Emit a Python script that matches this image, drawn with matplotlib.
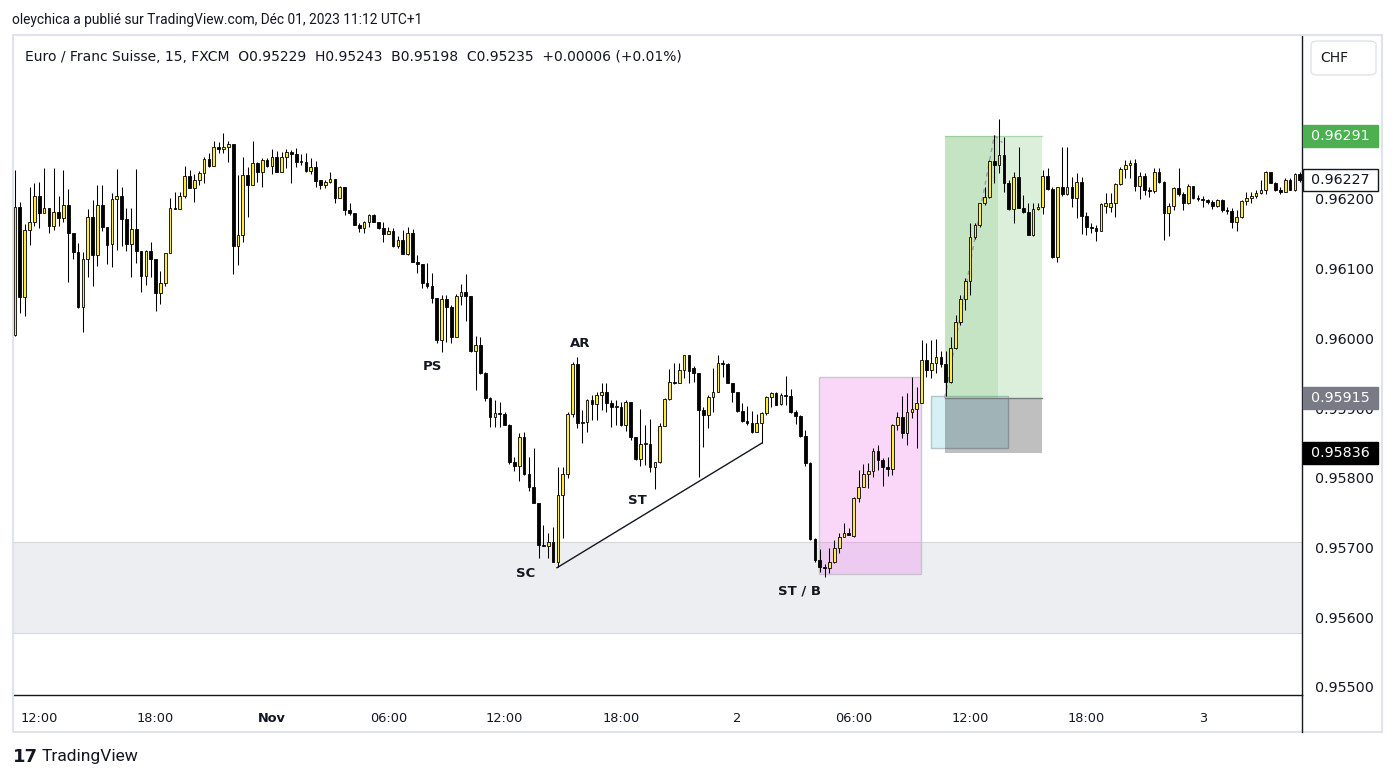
import matplotlib
matplotlib.use("Agg")
import matplotlib.pyplot as plt
import matplotlib.transforms as mtransforms
from matplotlib.patches import Rectangle, FancyBboxPatch
from matplotlib.lines import Line2D
import numpy as np

plt.rcParams['font.family'] = ['DejaVu Sans']

# ---------------- data (EUR/CHF, 15 min, FXCM) ----------------
opens = [0.96005,0.96189,0.96059,0.96156,0.96167,0.96204,0.96180,0.96187,0.96161,0.96181,
0.96173,0.96191,0.96151,0.96124,0.96045,0.96114,0.96174,0.96120,0.96191,0.96160,
0.96135,0.96200,0.96204,0.96171,0.96135,0.96157,0.96125,0.96090,0.96125,0.96114,
0.96065,0.96080,0.96123,0.96187,0.96186,0.96204,0.96233,0.96216,0.96227,0.96237,
0.96257,0.96247,0.96275,0.96272,0.96275,0.96279,0.96133,0.96148,0.96234,0.96220,
0.96252,0.96239,0.96256,0.96247,0.96260,0.96239,0.96260,0.96267,0.96265,0.96253,
0.96253,0.96240,0.96246,0.96227,0.96220,0.96224,0.96229,0.96201,0.96217,0.96184,
0.96180,0.96163,0.96158,0.96167,0.96177,0.96167,0.96158,0.96150,0.96154,0.96133,
0.96141,0.96121,0.96151,0.96110,0.96107,0.96080,0.96075,0.96058,0.95998,0.96057,
0.96045,0.96002,0.96061,0.96067,0.96061,0.95982,0.95991,0.95950,0.95915,0.95887,
0.95893,0.95892,0.95876,0.95823,0.95817,0.95859,0.95805,0.95787,0.95764,0.95704,
0.95702,0.95708,0.95679,0.95775,0.95805,0.95892,0.95963,0.95879,0.95880,0.95912,
0.95906,0.95919,0.95923,0.95907,0.95902,0.95902,0.95876,0.95909,0.95859,0.95827,
0.95849,0.95849,0.95815,0.95823,0.95874,0.95913,0.95937,0.95936,0.95955,0.95976,
0.95957,0.95950,0.95897,0.95890,0.95916,0.95923,0.95965,0.95963,0.95936,0.95923,
0.95896,0.95881,0.95879,0.95866,0.95879,0.95893,0.95916,0.95922,0.95906,0.95919,
0.95917,0.95894,0.95889,0.95860,0.95821,0.95712,0.95682,0.95672,0.95671,0.95679,
0.95699,0.95715,0.95721,0.95717,0.95771,0.95787,0.95805,0.95810,0.95838,0.95826,
0.95815,0.95813,0.95876,0.95887,0.95864,0.95894,0.95899,0.95907,0.95969,0.95955,
0.95965,0.95973,0.95963,0.95937,0.95986,0.96024,0.96057,0.96082,0.96146,0.96163,
0.96194,0.96203,0.96255,0.96249,0.96263,0.96223,0.96186,0.96232,0.96187,0.96181,
0.96148,0.96186,0.96189,0.96233,0.96214,0.96117,0.96217,0.96207,0.96217,0.96201,
0.96224,0.96176,0.96160,0.96158,0.96154,0.96190,0.96189,0.96194,0.96222,0.96243,
0.96249,0.96252,0.96219,0.96233,0.96213,0.96211,0.96239,0.96224,0.96180,0.96190,
0.96216,0.96207,0.96194,0.96219,0.96201,0.96200,0.96199,0.96196,0.96190,0.96199,
0.96184,0.96183,0.96167,0.96174,0.96197,0.96201,0.96204,0.96209,0.96213,0.96239,
0.96223,0.96213,0.96210,0.96227,0.96213,0.96236]

highs = [0.96242,0.96196,0.96164,0.96217,0.96223,0.96224,0.96244,0.96187,0.96244,0.96204,
0.96242,0.96214,0.96151,0.96137,0.96124,0.96186,0.96199,0.96220,0.96220,0.96160,
0.96209,0.96243,0.96217,0.96187,0.96187,0.96243,0.96125,0.96127,0.96138,0.96114,
0.96097,0.96123,0.96201,0.96210,0.96210,0.96247,0.96242,0.96236,0.96240,0.96260,
0.96266,0.96283,0.96282,0.96295,0.96283,0.96279,0.96234,0.96260,0.96246,0.96283,
0.96253,0.96259,0.96259,0.96272,0.96269,0.96267,0.96272,0.96270,0.96273,0.96265,
0.96266,0.96259,0.96255,0.96227,0.96227,0.96239,0.96229,0.96219,0.96217,0.96194,
0.96180,0.96166,0.96168,0.96178,0.96178,0.96167,0.96167,0.96160,0.96158,0.96147,
0.96156,0.96160,0.96157,0.96120,0.96107,0.96108,0.96094,0.96058,0.96062,0.96062,
0.96048,0.96064,0.96078,0.96092,0.96061,0.96003,0.96002,0.95952,0.95916,0.95912,
0.95909,0.95894,0.95877,0.95830,0.95864,0.95866,0.95830,0.95843,0.95764,0.95732,
0.95721,0.95729,0.95815,0.95815,0.95894,0.95966,0.95973,0.95897,0.95913,0.95919,
0.95923,0.95936,0.95936,0.95912,0.95912,0.95909,0.95912,0.95909,0.95859,0.95899,
0.95876,0.95884,0.95823,0.95879,0.95915,0.95956,0.95965,0.95965,0.95976,0.95976,
0.95960,0.95950,0.95902,0.95919,0.95958,0.95976,0.95969,0.95965,0.95936,0.95923,
0.95907,0.95903,0.95896,0.95892,0.95894,0.95917,0.95923,0.95923,0.95922,0.95946,
0.95927,0.95897,0.95890,0.95869,0.95823,0.95714,0.95698,0.95676,0.95699,0.95711,
0.95721,0.95735,0.95728,0.95772,0.95811,0.95820,0.95821,0.95843,0.95847,0.95828,
0.95830,0.95877,0.95894,0.95917,0.95922,0.95945,0.95930,0.95998,0.95993,0.95998,
0.95999,0.95982,0.95982,0.96002,0.96034,0.96062,0.96087,0.96166,0.96166,0.96194,
0.96217,0.96256,0.96292,0.96315,0.96289,0.96227,0.96239,0.96275,0.96206,0.96194,
0.96194,0.96194,0.96242,0.96244,0.96217,0.96217,0.96275,0.96275,0.96232,0.96237,
0.96232,0.96181,0.96166,0.96163,0.96194,0.96209,0.96209,0.96223,0.96246,0.96256,
0.96256,0.96257,0.96239,0.96237,0.96217,0.96244,0.96244,0.96226,0.96194,0.96217,
0.96244,0.96210,0.96222,0.96219,0.96206,0.96204,0.96200,0.96199,0.96200,0.96200,
0.96189,0.96187,0.96184,0.96199,0.96210,0.96210,0.96213,0.96227,0.96240,0.96239,
0.96224,0.96217,0.96230,0.96230,0.96237,0.96239]

lows = [0.96003,0.96036,0.96032,0.96134,0.96161,0.96158,0.96180,0.96151,0.96156,0.96161,
0.96167,0.96081,0.96114,0.96044,0.96009,0.96088,0.96075,0.96104,0.96154,0.96107,
0.96102,0.96127,0.96133,0.96125,0.96088,0.96108,0.96067,0.96077,0.96088,0.96039,
0.96049,0.96075,0.96123,0.96186,0.96186,0.96201,0.96216,0.96196,0.96220,0.96223,
0.96246,0.96247,0.96266,0.96266,0.96253,0.96092,0.96105,0.96138,0.96174,0.96220,
0.96224,0.96217,0.96246,0.96236,0.96239,0.96239,0.96244,0.96223,0.96246,0.96249,
0.96239,0.96236,0.96217,0.96214,0.96216,0.96223,0.96194,0.96201,0.96177,0.96177,
0.96163,0.96153,0.96151,0.96160,0.96167,0.96157,0.96138,0.96150,0.96131,0.96130,
0.96121,0.96120,0.96110,0.96094,0.96072,0.96072,0.96051,0.95993,0.95980,0.95995,
0.95993,0.96002,0.96048,0.96025,0.95980,0.95926,0.95949,0.95910,0.95873,0.95873,
0.95873,0.95876,0.95820,0.95810,0.95795,0.95804,0.95781,0.95764,0.95685,0.95702,
0.95685,0.95679,0.95672,0.95714,0.95800,0.95887,0.95872,0.95850,0.95866,0.95883,
0.95883,0.95897,0.95894,0.95873,0.95876,0.95874,0.95867,0.95854,0.95826,0.95817,
0.95818,0.95808,0.95784,0.95821,0.95874,0.95912,0.95935,0.95936,0.95943,0.95936,
0.95937,0.95801,0.95844,0.95872,0.95894,0.95923,0.95945,0.95936,0.95909,0.95894,
0.95880,0.95876,0.95864,0.95866,0.95850,0.95890,0.95902,0.95904,0.95904,0.95904,
0.95893,0.95877,0.95859,0.95817,0.95711,0.95679,0.95665,0.95658,0.95663,0.95678,
0.95692,0.95715,0.95718,0.95715,0.95765,0.95787,0.95785,0.95801,0.95811,0.95788,
0.95803,0.95804,0.95869,0.95857,0.95847,0.95886,0.95843,0.95907,0.95945,0.95943,
0.95950,0.95959,0.95917,0.95936,0.95985,0.96019,0.96041,0.96062,0.96143,0.96160,
0.96191,0.96201,0.96223,0.96237,0.96210,0.96184,0.96166,0.96187,0.96180,0.96148,
0.96147,0.96184,0.96178,0.96213,0.96115,0.96110,0.96204,0.96206,0.96189,0.96173,
0.96150,0.96148,0.96151,0.96140,0.96154,0.96180,0.96181,0.96174,0.96220,0.96230,
0.96230,0.96211,0.96200,0.96206,0.96203,0.96209,0.96223,0.96141,0.96147,0.96184,
0.96204,0.96184,0.96193,0.96200,0.96197,0.96189,0.96193,0.96186,0.96189,0.96181,
0.96178,0.96158,0.96154,0.96173,0.96191,0.96194,0.96201,0.96207,0.96207,0.96223,
0.96211,0.96207,0.96210,0.96213,0.96211,0.96224]

closes = [0.96189,0.96059,0.96156,0.96167,0.96204,0.96180,0.96187,0.96161,0.96181,0.96173,
0.96191,0.96151,0.96124,0.96045,0.96114,0.96174,0.96120,0.96191,0.96160,0.96134,
0.96200,0.96204,0.96171,0.96135,0.96157,0.96125,0.96090,0.96125,0.96114,0.96065,
0.96080,0.96123,0.96187,0.96186,0.96204,0.96233,0.96216,0.96227,0.96237,0.96257,
0.96247,0.96275,0.96272,0.96275,0.96279,0.96133,0.96148,0.96234,0.96220,0.96252,
0.96239,0.96256,0.96247,0.96260,0.96239,0.96260,0.96267,0.96265,0.96253,0.96253,
0.96240,0.96246,0.96226,0.96220,0.96224,0.96229,0.96201,0.96217,0.96184,0.96180,
0.96163,0.96158,0.96167,0.96177,0.96167,0.96158,0.96150,0.96154,0.96133,0.96141,
0.96121,0.96151,0.96110,0.96107,0.96080,0.96075,0.96058,0.95998,0.96057,0.96045,
0.96002,0.96061,0.96067,0.96061,0.95982,0.95991,0.95950,0.95915,0.95887,0.95893,
0.95892,0.95876,0.95823,0.95817,0.95859,0.95805,0.95787,0.95764,0.95704,0.95702,
0.95708,0.95679,0.95775,0.95805,0.95892,0.95963,0.95879,0.95880,0.95912,0.95906,
0.95919,0.95923,0.95907,0.95902,0.95902,0.95876,0.95909,0.95859,0.95827,0.95849,
0.95849,0.95815,0.95823,0.95874,0.95913,0.95937,0.95936,0.95955,0.95976,0.95953,
0.95950,0.95897,0.95890,0.95916,0.95923,0.95965,0.95963,0.95936,0.95923,0.95896,
0.95881,0.95879,0.95866,0.95879,0.95893,0.95916,0.95922,0.95904,0.95919,0.95917,
0.95894,0.95889,0.95860,0.95821,0.95712,0.95682,0.95672,0.95671,0.95679,0.95699,
0.95715,0.95721,0.95718,0.95771,0.95787,0.95805,0.95810,0.95838,0.95826,0.95815,
0.95813,0.95876,0.95887,0.95864,0.95894,0.95899,0.95907,0.95969,0.95955,0.95965,
0.95973,0.95963,0.95937,0.95986,0.96024,0.96057,0.96082,0.96146,0.96163,0.96194,
0.96203,0.96255,0.96249,0.96263,0.96223,0.96186,0.96232,0.96187,0.96181,0.96148,
0.96186,0.96189,0.96233,0.96214,0.96117,0.96217,0.96207,0.96217,0.96201,0.96224,
0.96176,0.96160,0.96158,0.96154,0.96193,0.96194,0.96194,0.96222,0.96243,0.96249,
0.96252,0.96219,0.96233,0.96213,0.96211,0.96239,0.96224,0.96180,0.96190,0.96216,
0.96207,0.96194,0.96219,0.96201,0.96200,0.96199,0.96196,0.96190,0.96199,0.96184,
0.96183,0.96167,0.96174,0.96197,0.96201,0.96204,0.96209,0.96213,0.96239,0.96223,
0.96213,0.96210,0.96227,0.96213,0.96236,0.96227]

# time axis: candle index of each label (first candle = Oct 31 10:45)
time_tick_idx = [5, 29, 53, 77, 101, 125, 149, 173, 197, 221, 245]
time_tick_labels = ["12:00", "18:00", "Nov", "06:00", "12:00", "18:00", "2",
                    "06:00", "12:00", "18:00", "3"]
price_ticks = [0.955, 0.956, 0.957, 0.958, 0.959, 0.960, 0.961, 0.962]

# drawings
support_zone = (0.95577, 0.95708)
pink_box = (165.8, 186.9, 0.95662, 0.95945)
cyan_box = (188.9, 204.8, 0.95843, 0.95917)
pos_x0, pos_x_hit, pos_x1 = 191.8, 202.8, 211.8
entry, target, stop = 0.95915, 0.96291, 0.95836
last_price = 0.96227
st_line = ([111.8, 154.1], [0.95671, 0.95850])
wyckoff_labels = [("PS", 86.2, 0.95960), ("AR", 116.5, 0.95993), ("SC", 105.4, 0.95663),
                  ("ST", 128.3, 0.95767), ("ST / B", 161.9, 0.95638)]

# ---------------- figure ----------------
W, H = 1395, 780
fig = plt.figure(figsize=(W / 100, H / 100), dpi=100)
fig.patch.set_facecolor("white")
TXT = "#131722"

def fx(px):
    return px / W

def fy(py):
    return 1 - py / H

L, R, T, B = 13, 1302, 35, 695
ax = fig.add_axes([fx(L), fy(B), fx(R) - fx(L), fy(T) - fy(B)])
ax.set_facecolor("white")

o = np.array(opens); h = np.array(highs); lo = np.array(lows); c = np.array(closes)
x = np.arange(len(o))

# zones
ax.axhspan(*support_zone, facecolor="#edeef1", edgecolor="none", zorder=0)
for yv in support_zone:
    ax.axhline(yv, color="#d6d8de", lw=0.8, zorder=0.5)

px0, px1, py0, py1 = pink_box
ax.add_patch(Rectangle((px0, py0), px1 - px0, py1 - py0, facecolor=(0.93, 0.38, 0.92, 0.25),
                       edgecolor=(0.75, 0.75, 0.78, 0.8), lw=1, zorder=1))
cx0, cx1, cy0, cy1 = cyan_box
ax.add_patch(Rectangle((cx0, cy0), cx1 - cx0, cy1 - cy0, facecolor="#d6f1f5",
                       edgecolor="#b4c6ca", lw=1, zorder=1))
# long position tool
ax.add_patch(Rectangle((pos_x0, entry), pos_x1 - pos_x0, target - entry,
                       facecolor=(0.30, 0.69, 0.31, 0.2), edgecolor="none", zorder=1.2))
ax.add_patch(Rectangle((pos_x0, entry), pos_x_hit - pos_x0, target - entry,
                       facecolor=(0.30, 0.69, 0.31, 0.16), edgecolor="none", zorder=1.3))
ax.add_patch(Rectangle((pos_x0, stop), pos_x1 - pos_x0, entry - stop,
                       facecolor=(0, 0, 0, 0.25), edgecolor="none", zorder=1.2))
ax.plot([pos_x0, pos_x1], [entry, entry], color="#787b86", lw=1, zorder=1.5)
ax.plot([pos_x0, pos_x1], [target, target], color=(0.30, 0.69, 0.31, 0.35), lw=1, zorder=1.5)
ax.plot([pos_x0, 202.0, 203.7], [entry, target, 0.96281], color="#9a9da6", lw=1,
        ls=(0, (3, 3)), zorder=1.6)

# ST line
ax.plot(st_line[0], st_line[1], color=TXT, lw=1, zorder=2)

# candles
ax.vlines(x, lo, h, color="black", lw=0.75, zorder=3)
up = c >= o
bottoms = np.minimum(o, c)
heights = np.maximum(np.abs(c - o), 0.000012)
ax.bar(x[up], heights[up], bottom=bottoms[up], width=0.56, color="#ffeb3b",
       edgecolor="black", linewidth=0.6, zorder=4)
ax.bar(x[~up], heights[~up], bottom=bottoms[~up], width=0.56, color="black",
       edgecolor="black", linewidth=0.6, zorder=4)

for txt, xv, yv in wyckoff_labels:
    ax.text(xv, yv, txt, ha="center", va="center", fontsize=9.5, fontweight="bold",
            color=TXT, zorder=6)

ax.set_xlim(-0.41, 265.47)
ax.set_ylim(0.9548838, 0.9643529)

for s in ["top", "left"]:
    ax.spines[s].set_visible(False)
ax.spines["right"].set_color(TXT)
ax.spines["bottom"].set_color(TXT)
ax.spines["right"].set_linewidth(1)
ax.spines["bottom"].set_linewidth(1)

ax.set_xticks(time_tick_idx)
ax.set_xticklabels(time_tick_labels)
for lab in ax.get_xticklabels():
    if lab.get_text() == "Nov":
        lab.set_fontweight("bold")
ax.yaxis.tick_right()
ax.set_yticks(price_ticks)
ax.set_yticklabels([f"{v:.5f}" for v in price_ticks])
ax.tick_params(axis="x", length=0, pad=12, labelsize=9.3, labelcolor=TXT)
ax.tick_params(axis="y", length=0, pad=9, labelsize=10.3, labelcolor=TXT)

# price labels on the right scale
blend = mtransforms.blended_transform_factory(ax.transAxes, ax.transData)
box_w = 75 / (R - L)
box_h = 22 / 69700
def price_label(val, face, txtcolor, edge=None):
    ax.add_patch(Rectangle((1.0008, val - box_h / 2), box_w, box_h, transform=blend,
                           facecolor=face, edgecolor=edge if edge else face, lw=1,
                           clip_on=False, zorder=10))
    ax.text(1.0008 + box_w / 2, val, f"{val:.5f}", transform=blend, ha="center",
            va="center", fontsize=10.3, color=txtcolor, clip_on=False, zorder=11)

price_label(target, "#4caf50", "white")
price_label(last_price, "white", TXT, edge=TXT)
price_label(entry, "#787b86", "white")
price_label(stop, "#000000", "white")

# frame & extra lines
fig.add_artist(Rectangle((fx(13), fy(732)), fx(1382) - fx(13), fy(35) - fy(732),
                         transform=fig.transFigure, fill=False, edgecolor="#e0e3eb", lw=1.5))
fig.add_artist(Line2D([fx(R), fx(R)], [fy(695), fy(732)], transform=fig.transFigure,
                      color=TXT, lw=1))
fig.add_artist(FancyBboxPatch((fx(1311), fy(75)), fx(1376) - fx(1311), fy(41) - fy(75),
                              boxstyle="round,pad=0,rounding_size=0.005",
                              transform=fig.transFigure, facecolor="white",
                              edgecolor="#e0e3eb", lw=1))
fig.text(fx(1334), fy(58), "CHF", ha="center", va="center", fontsize=10, color=TXT)

fig.text(fx(12), fy(20), "oleychica a publié sur TradingView.com, Déc 01, 2023 11:12 UTC+1",
         ha="left", va="center", fontsize=9.9, color=TXT, family="Roboto")
fig.text(fx(25), fy(57),
         "Euro / Franc Suisse, 15, FXCM  O0.95229  H0.95243  B0.95198  C0.95235  +0.00006 (+0.01%)",
         ha="left", va="center", fontsize=10.0, color=TXT)
fig.text(fx(13), fy(757), "17", ha="left", va="center", fontsize=13, fontweight="bold",
         color=TXT)
fig.text(fx(42), fy(757), "TradingView", ha="left", va="center", fontsize=12.5,
         color=TXT, family="Roboto")

fig.savefig("out.png", dpi=100, facecolor="white")
